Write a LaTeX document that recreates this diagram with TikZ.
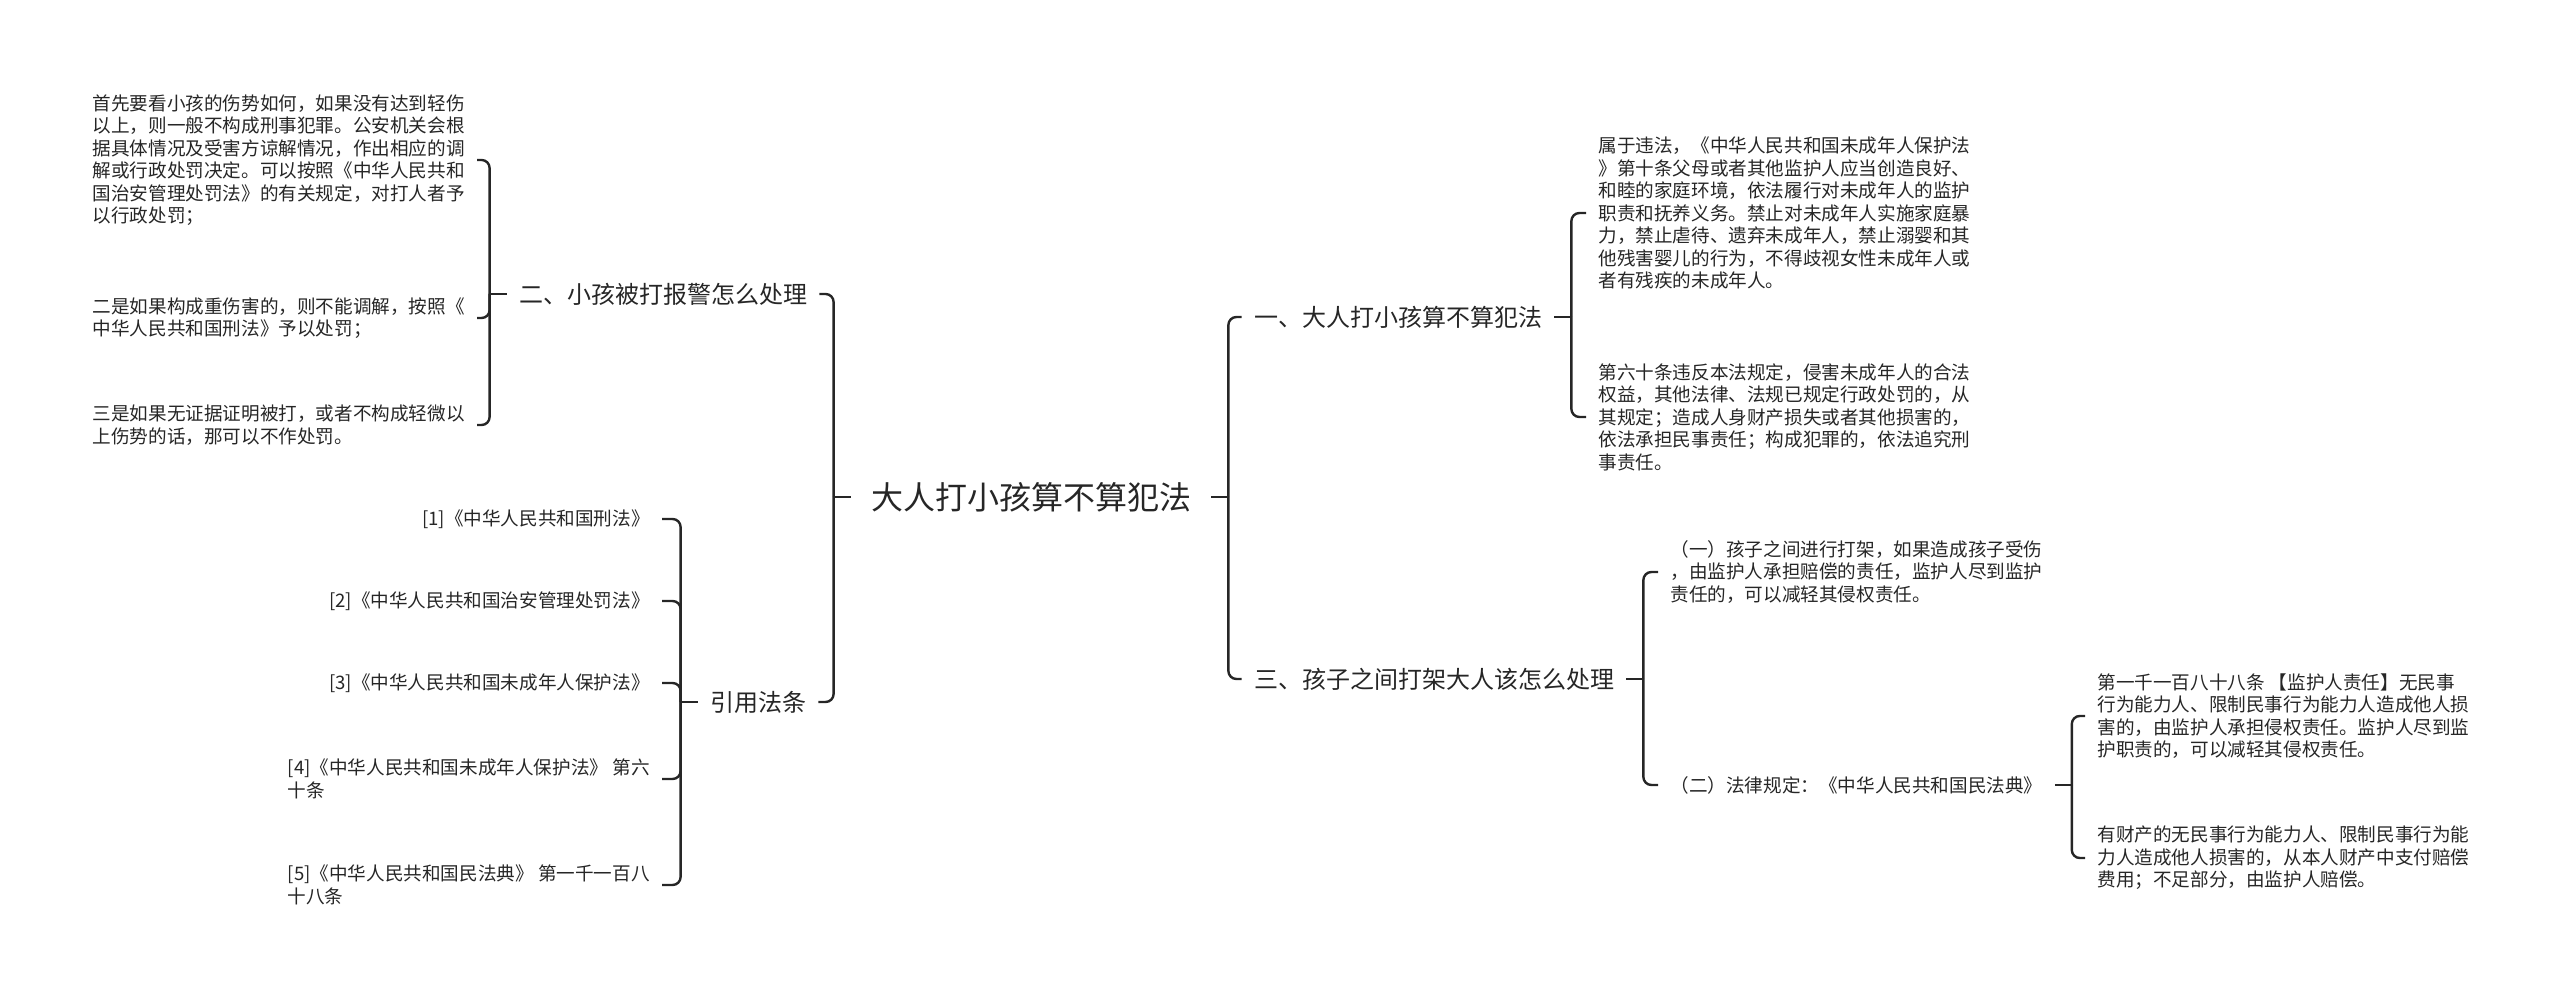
\documentclass[tikz,border=0pt]{standalone}
\usepackage{fontspec}
\setmainfont{Noto Sans CJK SC}
\usepackage{tikz}
\usetikzlibrary{positioning,calc}
\definecolor{ink}{RGB}{38,38,38}

\begin{document}
\begin{tikzpicture}[
  x=0.5pt,y=-0.5pt,
  t/.style={inner xsep=6pt,inner ysep=2pt,align=left,text=ink,font=\fontsize{9.3}{11.25}\selectfont},
  b/.style={inner xsep=6pt,inner ysep=2pt,text=ink,font=\fontsize{12}{14.4}\selectfont},
  r/.style={inner xsep=10pt,inner ysep=2pt,text=ink,font=\fontsize{16}{19}\selectfont},
  l/.style={line width=1.2pt,draw=ink},
  lc/.style={l,rounded corners=4pt}
]
\useasboundingbox (0,0) rectangle (2560,999);

\node[r] (root) at (1031,497) {大人打小孩算不算犯法};

\node[b] (n2) at (663,294) {二、小孩被打报警怎么处理};
\node[b] (cite) at (758,702) {引用法条};
\node[b] (n1) at (1398,317) {一、大人打小孩算不算犯法};
\node[b] (n3) at (1434,679) {三、孩子之间打架大人该怎么处理};

\node[t,anchor=east] (c1) at (477,160) {首先要看小孩的伤势如何，如果没有达到轻伤\\以上，则一般不构成刑事犯罪。公安机关会根\\据具体情况及受害方谅解情况，作出相应的调\\解或行政处罚决定。可以按照《中华人民共和\\国治安管理处罚法》的有关规定，对打人者予\\以行政处罚；};
\node[t,anchor=east] (c2) at (477,318) {二是如果构成重伤害的，则不能调解，按照《\\中华人民共和国刑法》予以处罚；};
\node[t,anchor=east] (c3) at (477,425) {三是如果无证据证明被打，或者不构成轻微以\\上伤势的话，那可以不作处罚。};

\node[t,anchor=east] (r1) at (662,519) {[1]《中华人民共和国刑法》};
\node[t,anchor=east] (r2) at (662,601) {[2]《中华人民共和国治安管理处罚法》};
\node[t,anchor=east] (r3) at (662,683) {[3]《中华人民共和国未成年人保护法》};
\node[t,anchor=east] (r4) at (662,779) {[4]《中华人民共和国未成年人保护法》 第六\\十条};
\node[t,anchor=east] (r5) at (662,885) {[5]《中华人民共和国民法典》 第一千一百八\\十八条};

\node[t,anchor=west] (k1) at (1586,213) {属于违法，《中华人民共和国未成年人保护法\\》第十条父母或者其他监护人应当创造良好、\\和睦的家庭环境，依法履行对未成年人的监护\\职责和抚养义务。禁止对未成年人实施家庭暴\\力，禁止虐待、遗弃未成年人，禁止溺婴和其\\他残害婴儿的行为，不得歧视女性未成年人或\\者有残疾的未成年人。};
\node[t,anchor=west] (k2) at (1586,417) {第六十条违反本法规定，侵害未成年人的合法\\权益，其他法律、法规已规定行政处罚的，从\\其规定；造成人身财产损失或者其他损害的，\\依法承担民事责任；构成犯罪的，依法追究刑\\事责任。};

\node[t,anchor=west] (s1) at (1658,572) {（一）孩子之间进行打架，如果造成孩子受伤\\，由监护人承担赔偿的责任，监护人尽到监护\\责任的，可以减轻其侵权责任。};
\node[t,anchor=west] (s2) at (1658,785) {（二）法律规定：《中华人民共和国民法典》};

\node[t,anchor=west] (t1) at (2085,716) {第一千一百八十八条 【监护人责任】无民事\\行为能力人、限制民事行为能力人造成他人损\\害的，由监护人承担侵权责任。监护人尽到监\\护职责的，可以减轻其侵权责任。};
\node[t,anchor=west] (t2) at (2085,858) {有财产的无民事行为能力人、限制民事行为能\\力人造成他人损害的，从本人财产中支付赔偿\\费用；不足部分，由监护人赔偿。};

\draw[l] (root.west) -- ++(-17,0) coordinate (jl);
\foreach \c in {n2,cite} \draw[lc] (jl) |- (\c.east);
\draw[l] (root.east) -- ++(17,0) coordinate (jr);
\foreach \c in {n1,n3} \draw[lc] (jr) |- (\c.west);

\draw[l] (n2.west) -- ++(-17,0) coordinate (j2);
\foreach \c in {c1,c2,c3} \draw[lc] (j2) |- (\c.east);
\draw[l] (cite.west) -- ++(-17,0) coordinate (jc);
\foreach \c in {r1,r2,r3,r4,r5} \draw[lc] (jc) |- (\c.east);

\draw[l] (n1.east) -- ++(17,0) coordinate (j1);
\foreach \c in {k1,k2} \draw[lc] (j1) |- (\c.west);
\draw[l] (n3.east) -- ++(17,0) coordinate (j3);
\foreach \c in {s1,s2} \draw[lc] (j3) |- (\c.west);
\draw[l] (s2.east) -- ++(17,0) coordinate (js);
\foreach \c in {t1,t2} \draw[lc] (js) |- (\c.west);
\end{tikzpicture}
\end{document}
